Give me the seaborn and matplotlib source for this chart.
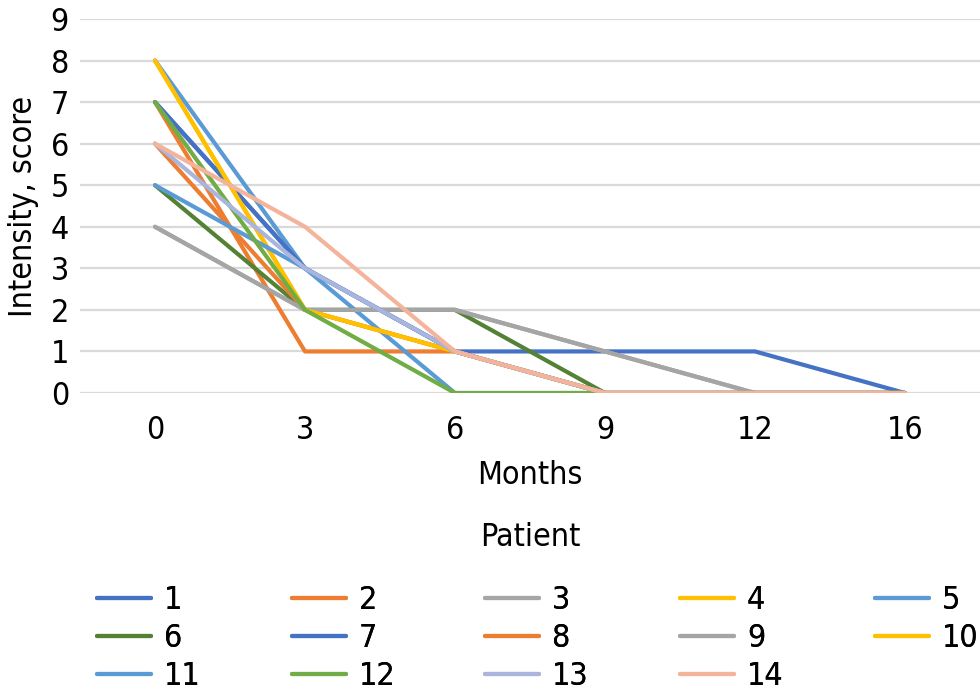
import matplotlib
matplotlib.use("Agg")
import matplotlib.pyplot as plt
from matplotlib.lines import Line2D
import seaborn as sns
import pandas as pd

months = ["0", "3", "6", "9", "12", "16"]
patients = [str(i) for i in range(1, 15)]
p1 = [7, 3, 1, 1, 1, 0]
p2 = [7, 1, 1, 0, 0, 0]
p3 = [4, 2, 2, 1, 0, 0]
p4 = [8, 2, 1, 0, 0, 0]
p5 = [8, 3, 0, 0, 0, 0]
p6 = [5, 2, 2, 0, 0, 0]
p7 = [7, 3, 1, 0, 0, 0]
p8 = [6, 2, 1, 0, 0, 0]
p9 = [4, 2, 2, 1, 0, 0]
p10 = [8, 2, 1, 0, 0, 0]
p11 = [5, 3, 1, 0, 0, 0]
p12 = [7, 2, 0, 0, 0, 0]
p13 = [6, 3, 1, 0, 0, 0]
p14 = [6, 4, 1, 0, 0, 0]
series = [p1, p2, p3, p4, p5, p6, p7, p8, p9, p10, p11, p12, p13, p14]

colors = ["#4472C4", "#ED7D31", "#A5A5A5", "#FFC000", "#5B9BD5", "#548235",
          "#4472C4", "#ED7D31", "#A5A5A5", "#FFC000", "#5B9BD5", "#70AD47",
          "#A9B5DD", "#F4B49C"]
palette = dict(zip(patients, colors))

rows = []
for p, vals in zip(patients, series):
    for m, v in zip(months, vals):
        rows.append({"Months": m, "Intensity": v, "Patient": p})
df = pd.DataFrame(rows)

sns.set_theme(style="white")
plt.rcParams["font.family"] = ["DejaVu Sans"]
plt.rcParams["font.stretch"] = "condensed"
plt.rcParams["text.color"] = "black"
plt.rcParams["axes.labelcolor"] = "black"

fig = plt.figure(figsize=(9.8, 6.99), dpi=100)
ax = fig.add_axes([80 / 980, 1 - 393 / 699, 900 / 980, (393 - 19) / 699])

sns.lineplot(data=df, x="Months", y="Intensity", hue="Patient", hue_order=patients,
             palette=palette, sort=False, linewidth=3.0, legend=False, ax=ax, zorder=3)

ax.set_xlim(-0.5, 5.5)
ax.set_ylim(0, 9)
ax.set_yticks(range(0, 10))
ax.yaxis.grid(True, color="#D9D9D9", linewidth=1.6, zorder=0)
ax.set_axisbelow(True)
for s in ax.spines.values():
    s.set_visible(False)
ax.tick_params(axis="both", length=0, labelsize=23, colors="black")
ax.tick_params(axis="y", pad=8)
ax.tick_params(axis="x", pad=16)
ax.set_xlabel("Months", fontsize=23, labelpad=10)
ax.set_ylabel("Intensity, score", fontsize=23, labelpad=8)

fig.text(530 / 980, 1 - 537 / 699, "Patient", fontsize=23, ha="center", va="center")

col_x = [97, 292, 485, 680, 875]
columns = [[1, 6, 11], [2, 7, 12], [3, 8, 13], [4, 9, 14], [5, 10]]
for cx, items in zip(col_x, columns):
    handles = [Line2D([0], [0], color=palette[str(i)], linewidth=3) for i in items]
    labels = [str(i) for i in items]
    lg = fig.legend(handles, labels, loc="upper left",
                    bbox_to_anchor=(cx / 980, 1 - 585 / 699),
                    frameon=False, fontsize=23, handlelength=1.7, handletextpad=0.4,
                    labelspacing=0.22, borderpad=0, borderaxespad=0)
    fig.add_artist(lg)

fig.savefig("out.png", dpi=100)
